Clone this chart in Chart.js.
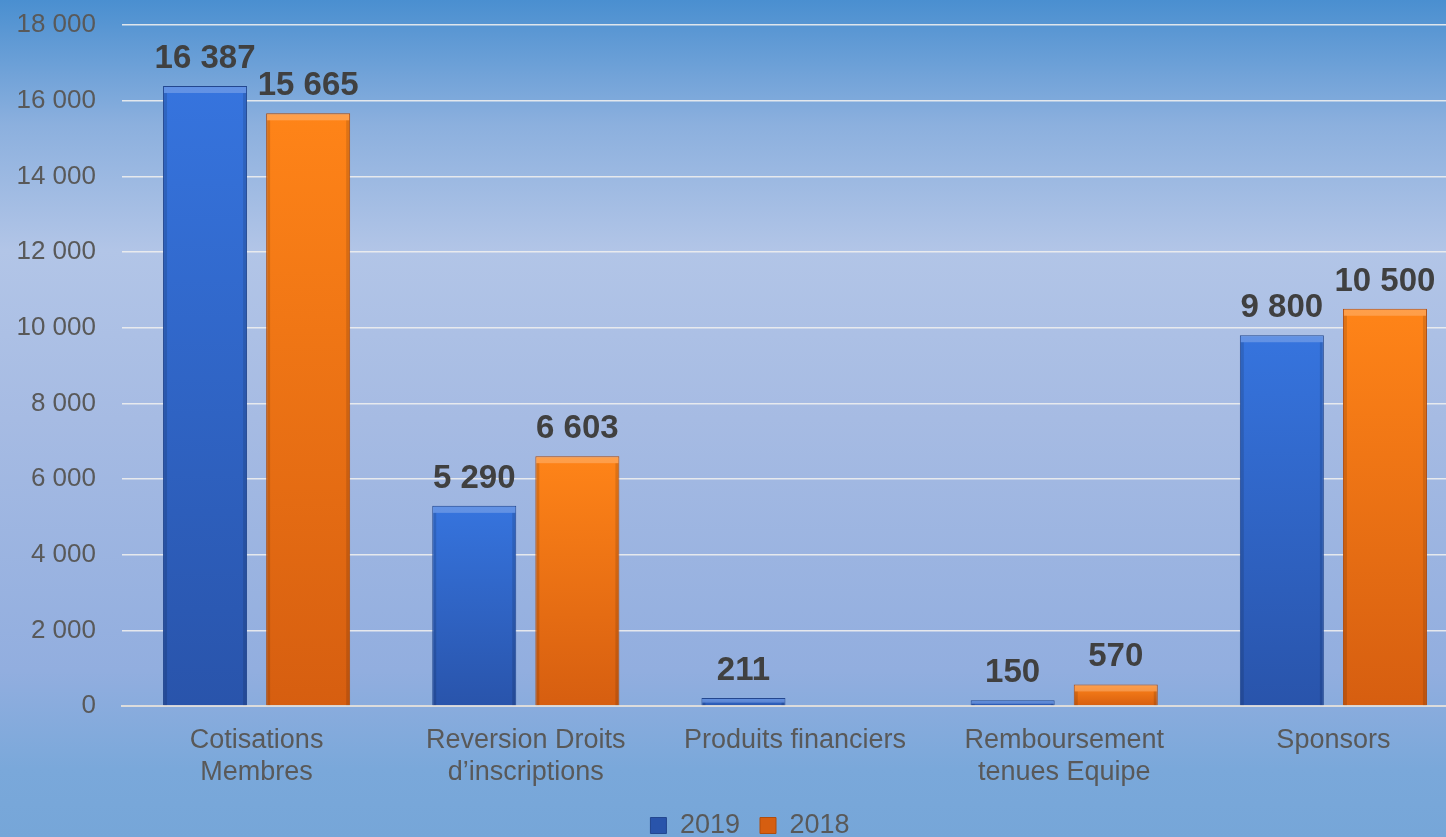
<!DOCTYPE html>
<html>
<head>
<meta charset="utf-8">
<script src="https://cdn.jsdelivr.net/npm/chart.js@4/dist/chart.umd.min.js"></script>
<style>
	html, body { margin: 0; padding: 0; overflow: hidden; }
	body {
		width: 1446px; height: 837px;
		background: linear-gradient(to bottom, #4a8fd0 0%, #8cb0de 15%, #b2c5e7 30%, #a6bbe3 50%, #92aedf 80%, #7aa8da 92%, #76a6d8 100%);
	}
	#wrap { width: 1500px; height: 837px; position: relative; }
</style>
</head>
<body>
<div id="wrap"><canvas id="revenus_chart"></canvas></div>
<script>
var categories = [
	['Cotisations', 'Membres'],
	['Reversion Droits', 'd\u2019inscriptions'],
	'Produits financiers',
	['Remboursement', 'tenues Equipe'],
	'Sponsors'
];
var values2019 = [16387, 5290, 211, 150, 9800];
var values2018 = [15665, 6603, 0, 570, 10500];
var seriesLabels = ['2019', '2018'];
var yTicks = [0, 2000, 4000, 6000, 8000, 10000, 12000, 14000, 16000, 18000];

var FONT = 'Arial, "Liberation Sans", sans-serif';

function fmt(v){
	return String(v).replace(/\B(?=(\d{3})+(?!\d))/g, ' ');
}

// vertical gradient for each bar, from its top to the axis
function barFill(top, bottom){
	return function(ctx){
		var chart = ctx.chart;
		var y = chart.scales && chart.scales.y;
		if (!y || ctx.parsed === undefined) return bottom;
		var yTop = y.getPixelForValue(ctx.parsed.y);
		var yBase = y.getPixelForValue(0);
		if (!isFinite(yTop) || yBase - yTop < 1) return top;
		var g = chart.ctx.createLinearGradient(0, yTop, 0, yBase);
		g.addColorStop(0, top);
		g.addColorStop(1, bottom);
		return g;
	};
}

var valueLabels = {
	id: 'valueLabels',
	afterLayout: function(chart){
		// legend sits a bit right of the plot centre in the original
		chart.legend.left += 16;
		chart.legend.right += 16;
	},
	afterDatasetsDraw: function(chart){
		var ctx = chart.ctx;
		ctx.save();
		// small bevel: light strip on top, darker sides
		chart.data.datasets.forEach(function(ds, di){
			chart.getDatasetMeta(di).data.forEach(function(bar, i){
				if (!ds.data[i]) return;
				var w = bar.width, h = bar.base - bar.y, x0 = bar.x - w / 2;
				var t = Math.min(6, h / 2);
				ctx.fillStyle = 'rgba(255,255,255,0.22)';
				ctx.fillRect(x0 + 1, bar.y + 1, w - 2, t);
				ctx.fillStyle = 'rgba(0,0,0,0.12)';
				ctx.fillRect(x0 + 1, bar.y + 1 + t, 3, h - t - 1);
				ctx.fillRect(x0 + w - 4, bar.y + 1 + t, 3, h - t - 1);
			});
		});
		ctx.font = 'bold 33px ' + FONT;
		ctx.fillStyle = '#404040';
		ctx.textAlign = 'center';
		ctx.textBaseline = 'alphabetic';
		chart.data.datasets.forEach(function(ds, di){
			var meta = chart.getDatasetMeta(di);
			meta.data.forEach(function(bar, i){
				if (!ds.data[i]) return;
				ctx.fillText(fmt(ds.data[i]), bar.x, bar.y - 18);
			});
		});
		ctx.restore();
	}
};

var ctx = document.getElementById('revenus_chart').getContext('2d');
ctx.canvas.width = 1500;
ctx.canvas.height = 837;
var chart = new Chart(ctx, {
	type: 'bar',
	plugins: [valueLabels],
	options: {
		responsive: false,
		maintainAspectRatio: false,
		animation: false,
		layout: {
			padding: { top: 25, right: 32, left: 0, bottom: -12 }
		},
		scales: {
			x: {
				grid: { display: false },
				border: { display: true, color: '#dcdcdc', width: 2 },
				ticks: {
					color: '#595959',
					font: { family: FONT, size: 27, lineHeight: 1.17 },
					padding: 11,
					maxRotation: 0
				},
				afterFit: function(scale){ scale.height = 86; }
			},
			y: {
				min: 0,
				max: 18000,
				afterBuildTicks: function(scale){
					scale.ticks = yTicks.map(function(v){ return { value: v }; });
				},
				afterFit: function(scale){
					scale.width = 122;
					scale.paddingTop = 0;
					scale.paddingBottom = 0;
				},
				border: { display: false },
				grid: {
					color: 'rgba(238,238,238,0.9)',
					lineWidth: 1.5,
					drawTicks: false
				},
				ticks: {
					color: '#595959',
					font: { family: FONT, size: 26 },
					padding: 26,
					callback: function(v){ return fmt(v); }
				}
			}
		},
		plugins: {
			legend: {
				display: true,
				position: 'bottom',
				labels: {
					color: '#595959',
					font: { family: FONT, size: 27, lineHeight: 1 },
					boxWidth: 16,
					boxHeight: 16,
					padding: 20
				}
			},
			tooltip: { enabled: false }
		}
	},
	data: {
		labels: categories,
		datasets: [{
			label: seriesLabels[0],
			data: values2019,
			backgroundColor: barFill('#3674de', '#2954ab'),
			borderColor: '#23478f',
			borderWidth: 1,
			barPercentage: 0.815,
			categoryPercentage: 0.766
		}, {
			label: seriesLabels[1],
			data: values2018,
			backgroundColor: barFill('#ff8418', '#d65e10'),
			borderColor: '#b04c0c',
			borderWidth: 1,
			barPercentage: 0.815,
			categoryPercentage: 0.766
		}]
	}
});
</script>
</body>
</html>
